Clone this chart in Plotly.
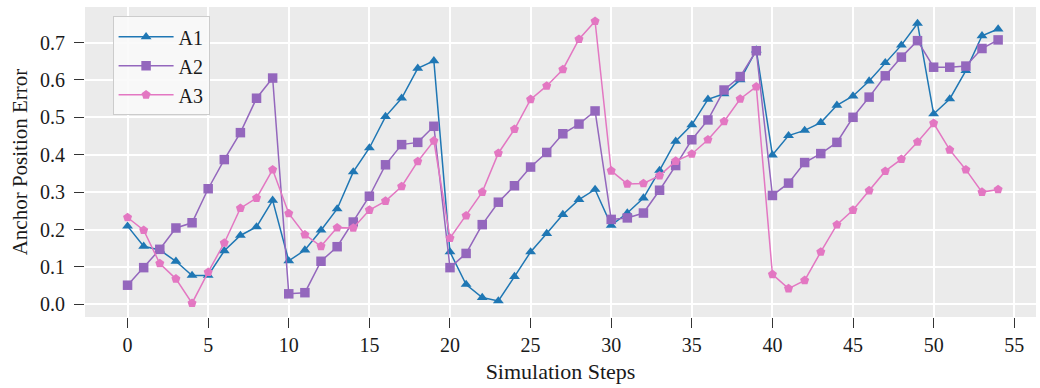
import plotly.graph_objects as go

steps = list(range(55))

a1 = [0.209, 0.155, 0.145, 0.115, 0.077, 0.077, 0.143, 0.184, 0.207, 0.278,
      0.116, 0.145, 0.198, 0.255, 0.354, 0.418, 0.502, 0.551, 0.631, 0.651,
      0.140, 0.053, 0.018, 0.009, 0.074, 0.140, 0.189, 0.240, 0.280, 0.307,
      0.211, 0.244, 0.284, 0.358, 0.436, 0.480, 0.548, 0.563, 0.600, 0.680,
      0.399, 0.451, 0.465, 0.486, 0.532, 0.557, 0.597, 0.646, 0.693, 0.751,
      0.509, 0.549, 0.625, 0.718, 0.736]

a2 = [0.051, 0.098, 0.147, 0.204, 0.218, 0.309, 0.387, 0.459, 0.551, 0.605,
      0.028, 0.031, 0.115, 0.154, 0.220, 0.289, 0.373, 0.427, 0.433, 0.476,
      0.098, 0.136, 0.213, 0.273, 0.317, 0.367, 0.406, 0.456, 0.482, 0.517,
      0.227, 0.231, 0.244, 0.305, 0.371, 0.440, 0.493, 0.573, 0.609, 0.678,
      0.291, 0.324, 0.379, 0.403, 0.433, 0.500, 0.554, 0.611, 0.661, 0.705,
      0.634, 0.634, 0.637, 0.684, 0.707]

a3 = [0.232, 0.198, 0.109, 0.068, 0.003, 0.086, 0.164, 0.257, 0.284, 0.360,
      0.243, 0.186, 0.155, 0.205, 0.204, 0.252, 0.276, 0.315, 0.382, 0.437,
      0.177, 0.237, 0.300, 0.404, 0.468, 0.548, 0.584, 0.628, 0.709, 0.757,
      0.357, 0.322, 0.323, 0.344, 0.383, 0.402, 0.440, 0.489, 0.549, 0.582,
      0.080, 0.042, 0.064, 0.140, 0.213, 0.252, 0.304, 0.356, 0.388, 0.434,
      0.484, 0.413, 0.360, 0.300, 0.307]

series = [
    ("A1", a1, "#1f77b4", "triangle-up"),
    ("A2", a2, "#9467bd", "square"),
    ("A3", a3, "#e377c2", "pentagon"),
]

x_ticks = list(range(0, 56, 5))
y_ticks = [0.0, 0.1, 0.2, 0.3, 0.4, 0.5, 0.6, 0.7]

FONT = "Liberation Serif"

fig = go.Figure()
for name, vals, color, symbol in series:
    fig.add_trace(go.Scatter(
        x=steps, y=vals, name=name, mode="lines+markers",
        line=dict(color=color, width=1.5),
        marker=dict(symbol=symbol, size=9.5, color=color, line=dict(width=0)),
    ))

fig.update_layout(
    width=1040, height=388,
    margin=dict(l=85, r=4, t=7, b=71),
    paper_bgcolor="white",
    plot_bgcolor="#ebebeb",
    font=dict(family=FONT, size=20, color="#1a1a1a"),
    legend=dict(
        x=0.029, y=0.97, xanchor="left", yanchor="top",
        bgcolor="rgba(250,250,250,0.9)", bordercolor="#cccccc", borderwidth=1,
        font=dict(family=FONT, size=20, color="#1a1a1a"),
        itemwidth=55, tracegroupgap=0,
    ),
    xaxis=dict(
        range=[-2.64, 56.35], tickvals=x_ticks, ticks="outside", ticklen=10,
        tickcolor="#333333", tickwidth=1, showline=False, zeroline=False,
        showgrid=True, gridcolor="white", gridwidth=1.5,
        title=dict(text="Simulation Steps", font=dict(size=22), standoff=8),
        tickfont=dict(size=20),
    ),
    yaxis=dict(
        range=[-0.034, 0.795], tickvals=y_ticks, tickformat=".1f",
        ticks="outside", ticklen=10, tickcolor="#333333", tickwidth=1,
        showline=False, zeroline=False, showgrid=True, gridcolor="white",
        gridwidth=1.5, ticklabelstandoff=5,
        title=dict(text="Anchor Position Error", font=dict(size=21), standoff=6),
        tickfont=dict(size=20),
    ),
)

fig.write_html("out.html")
